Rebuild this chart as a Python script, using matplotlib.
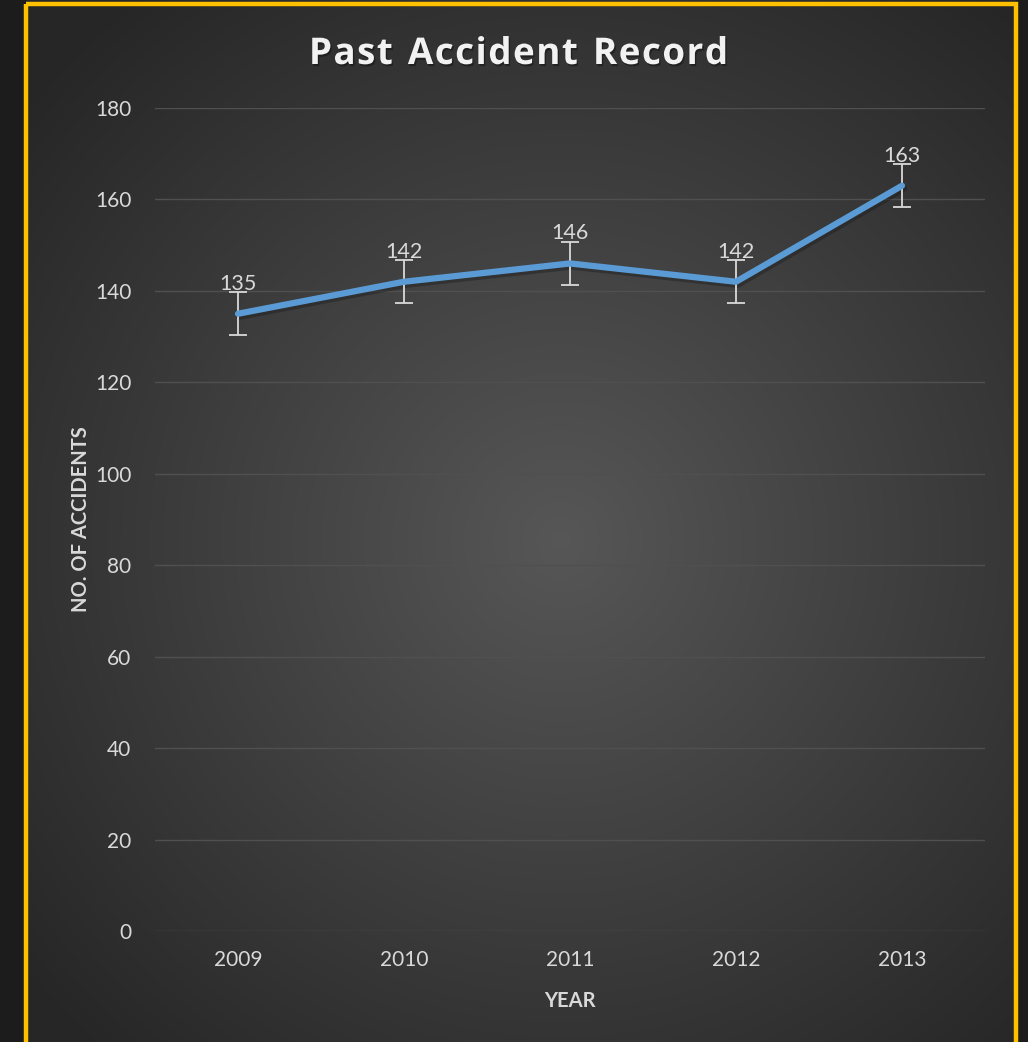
import numpy as np
import matplotlib.pyplot as plt
import matplotlib.patheffects as pe
from matplotlib.patches import Rectangle

years = ['2009', '2010', '2011', '2012', '2013']
accidents = [135, 142, 146, 142, 163]
std_err = 4.7

W, H = 1028, 1042
fig = plt.figure(figsize=(W / 100, H / 100), dpi=100)
fig.patch.set_facecolor('#1d1d1d')

# radial grey gradient behind the chart
bg = fig.add_axes([0, 0, 1, 1], zorder=0)
bg.set_axis_off()
yy, xx = np.mgrid[0:H, 0:W]
r = np.sqrt(((xx - 560) / 620) ** 2 + ((yy - 540) / 620) ** 2)
shade = np.clip(0.34 - 0.17 * r, 0.15, 0.34)
img = np.dstack([shade, shade, shade])
bg.imshow(img, extent=[0, W, H, 0], aspect='auto')
bg.add_patch(Rectangle((0, 0), 25, H, color='#1c1c1c', zorder=2))
bg.add_patch(Rectangle((1016, 0), 12, H, color='#1c1c1c', zorder=2))
bg.add_patch(Rectangle((25.5, 4), 990, H + 20, fill=False,
                       edgecolor='#ffc000', linewidth=3.2, zorder=3))
bg.set_xlim(0, W)
bg.set_ylim(H, 0)

ax = fig.add_axes([155 / W, 1 - 931 / H, 830 / W, (931 - 108) / H], zorder=1)
ax.set_facecolor('none')
x = np.arange(len(years))

ax.errorbar(x, accidents, yerr=std_err, fmt='none', ecolor='#d9d9d9',
            elinewidth=1.3, capsize=6.5, capthick=1.3, zorder=3)
ax.plot(x + 0.01, np.array(accidents) - 0.6, color='#1a1a1a', alpha=0.4,
        linewidth=5, solid_capstyle='round', zorder=2)
ax.plot(x, accidents, color='#5b9bd5', linewidth=4.5,
        solid_capstyle='round', zorder=4)

for xi, v in zip(x, accidents):
    ax.text(xi, v + std_err - 0.3, str(v), ha='center', va='bottom',
            fontsize=15.5, color='#d9d9d9', family='Lato', zorder=5)

ax.set_xlim(-0.5, len(years) - 0.5)
ax.set_ylim(0, 180)
ax.set_yticks(range(0, 181, 20))
ax.set_xticks(x)
ax.set_xticklabels(years)
ax.grid(axis='y', color='#505050', linewidth=1)
ax.set_axisbelow(True)
for s in ax.spines.values():
    s.set_visible(False)
ax.tick_params(length=0, colors='#d9d9d9', labelsize=15, pad=17)
for lab in ax.get_xticklabels() + ax.get_yticklabels():
    lab.set_family('Lato')
ax.tick_params(axis='x', pad=14)

ax.set_xlabel('YEAR', fontsize=14.5, fontweight='bold', color='#d9d9d9',
              family='Lato', labelpad=15)
ax.set_ylabel('NO. OF ACCIDENTS', fontsize=14.5, fontweight='bold',
              color='#d9d9d9', family='Lato', labelpad=3)

# title with extra letter spacing, drawn char by char
title = 'Past Accident Record'
tstyle = dict(fontsize=26.5, fontweight='bold', color='#f2f2f2',
              family='Open Sans', va='baseline', ha='left',
              path_effects=[pe.withSimplePatchShadow(offset=(1, -1.5),
                                                     shadow_rgbFace='black',
                                                     alpha=0.35)])
renderer = fig.canvas.get_renderer()
spacing = 1.5
widths = []
for ch in title:
    t = fig.text(0, 0, ch if ch != ' ' else 'n', **tstyle)
    w = t.get_window_extent(renderer).width
    if ch == ' ':
        w *= 0.5
    widths.append(w)
    t.remove()
total = sum(widths) + spacing * (len(title) - 1)
xpos = 518.5 - total / 2
for ch, w in zip(title, widths):
    if ch != ' ':
        fig.text(xpos / W, 1 - 64 / H, ch, **tstyle)
    xpos += w + spacing

fig.savefig('out.png', dpi=100, facecolor=fig.get_facecolor())
